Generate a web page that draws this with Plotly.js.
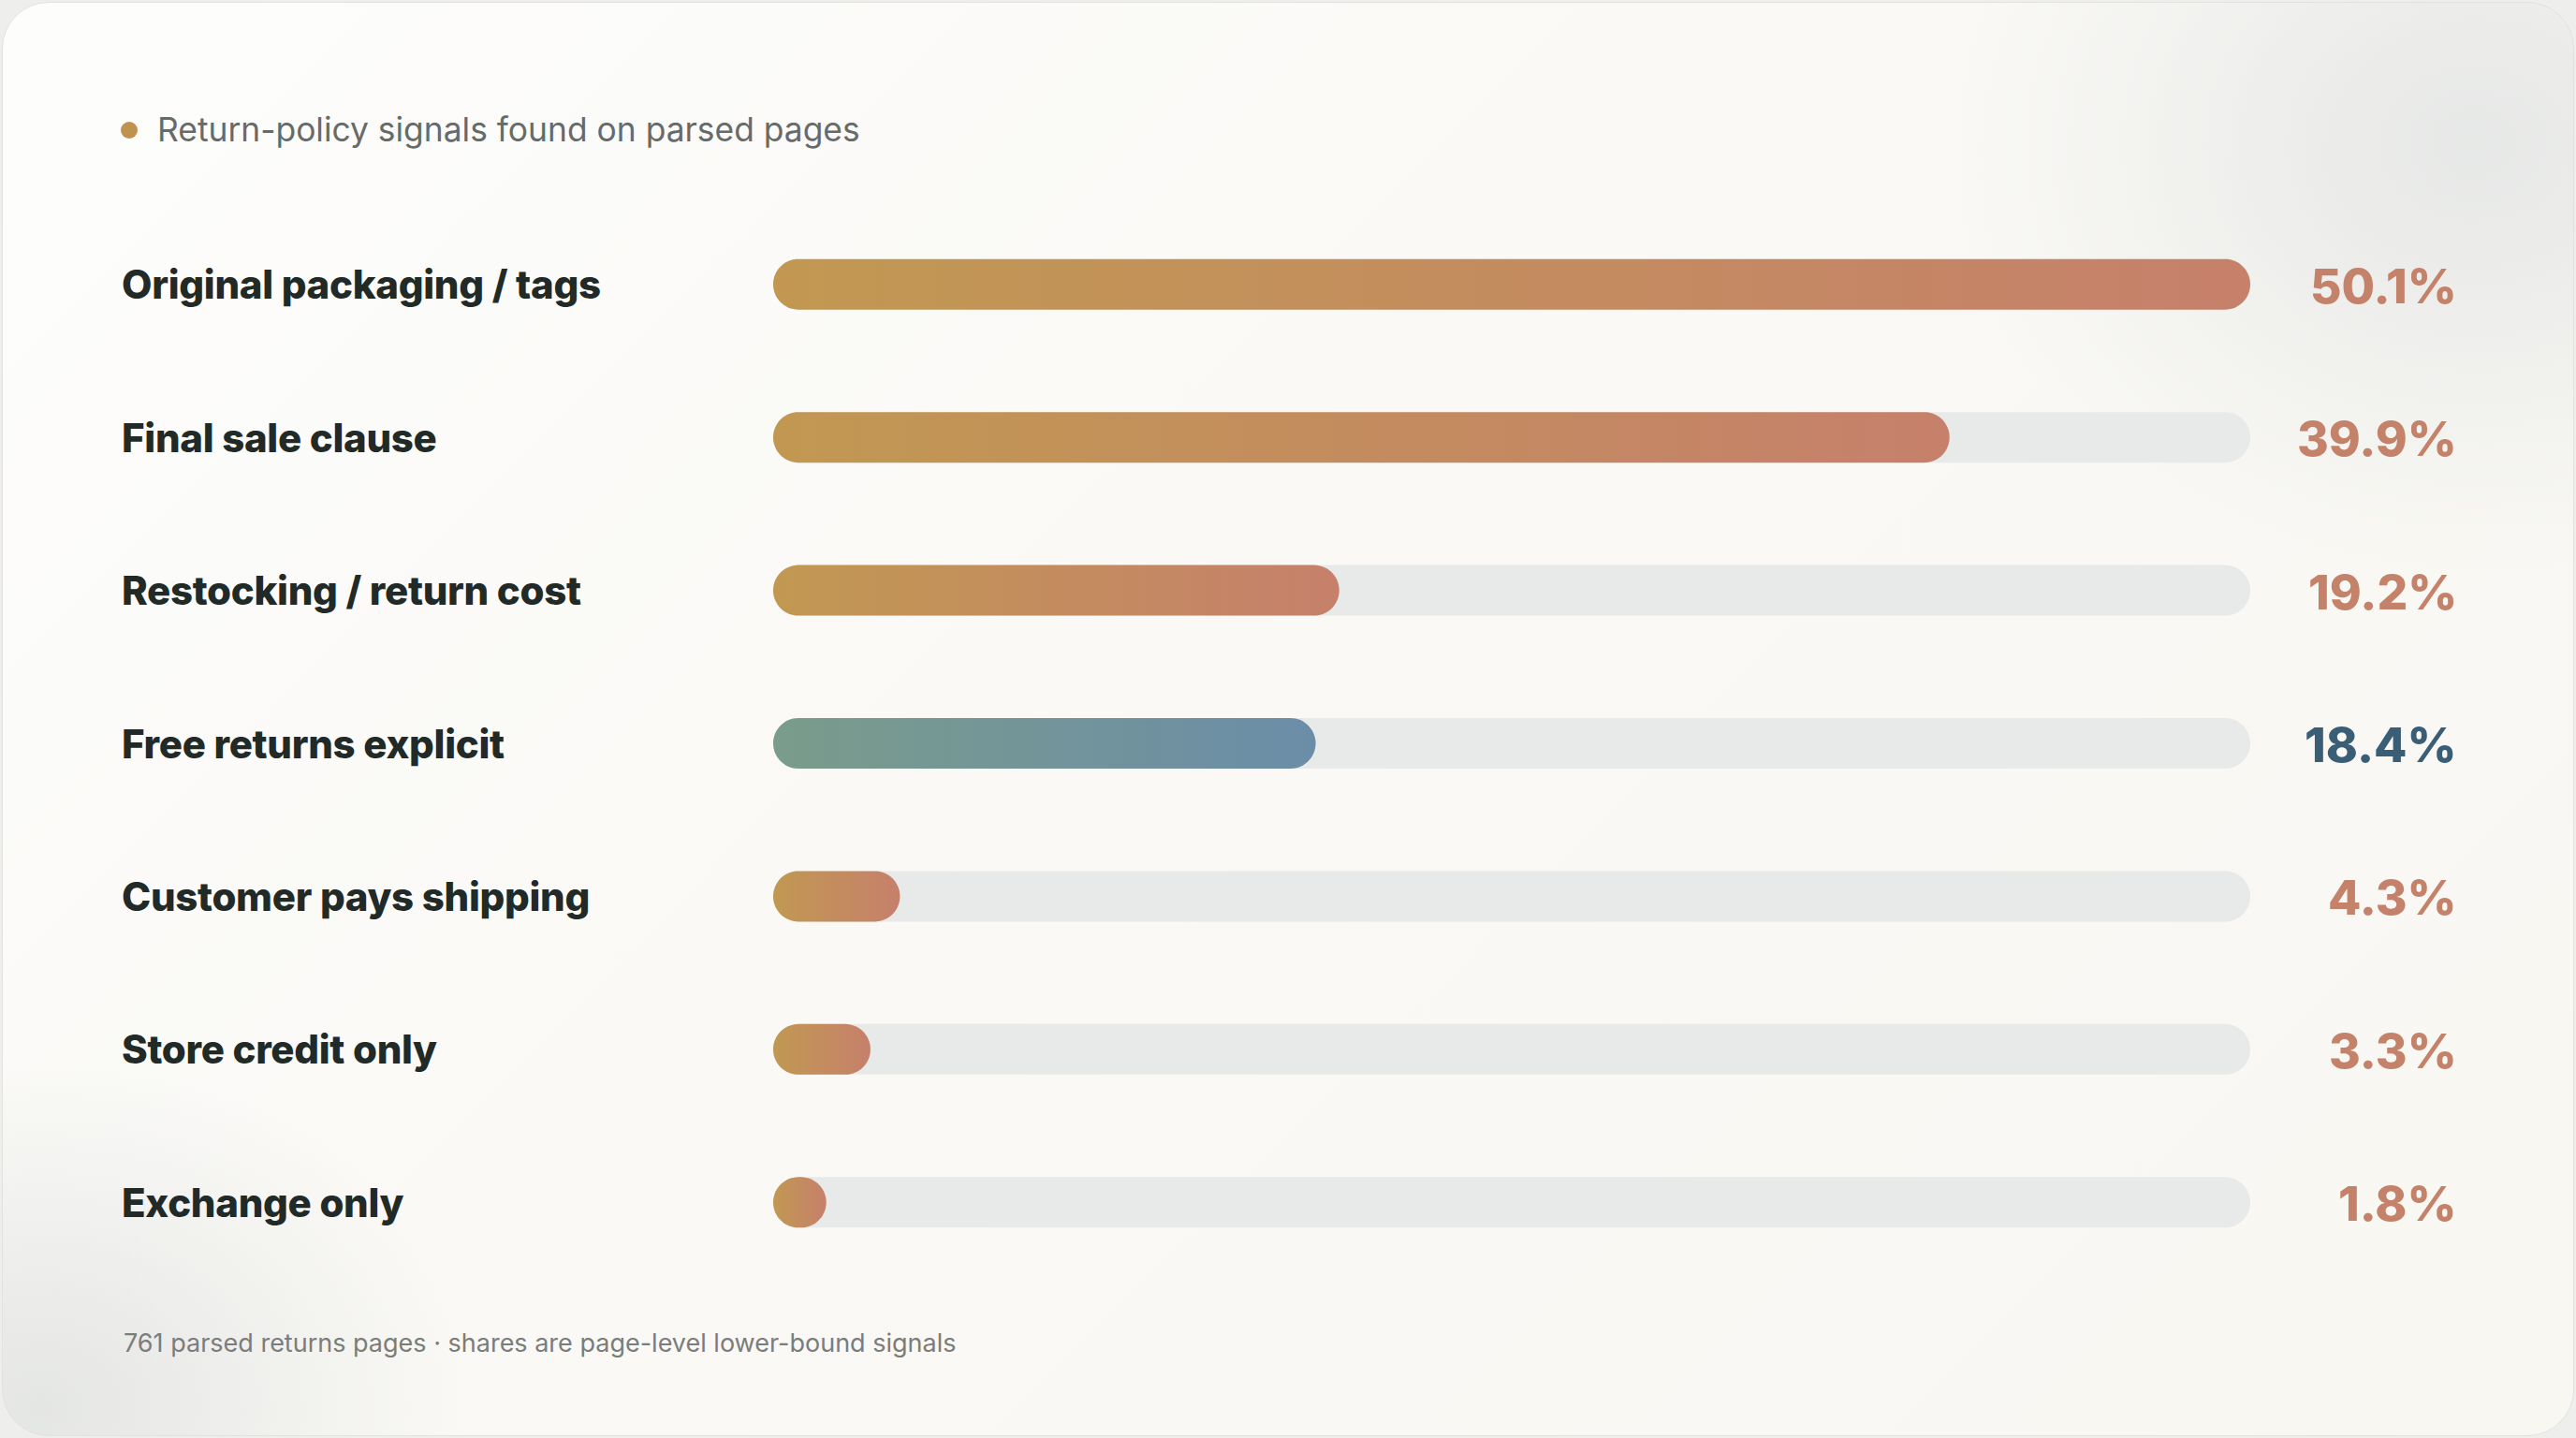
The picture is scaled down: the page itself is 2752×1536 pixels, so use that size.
<!DOCTYPE html>
<html>
<head>
<meta charset="utf-8">
<script src="https://cdn.plot.ly/plotly-3.0.1.min.js"></script>
<style>
  html, body { margin: 0; padding: 0; width: 2752px; height: 1536px; overflow: hidden; background: #EEEEEC; }
  #card {
    position: absolute; left: 2px; top: 2px; width: 2746px; height: 1530px;
    border-radius: 50px; border: 1px solid #E2E2DF;
    background:
      radial-gradient(ellipse 560px 460px at 2640px 150px, rgba(228,230,229,0.9), rgba(228,230,229,0) 100%),
      radial-gradient(ellipse 460px 380px at 40px 1500px, rgba(226,228,226,0.9), rgba(226,228,226,0) 100%),
      linear-gradient(135deg, #FDFDFC 0%, #FAF9F6 40%, #F8F7F2 100%);
  }
  #chart { position: absolute; left: 0; top: 0; width: 2752px; height: 1536px; }
</style>
</head>
<body>
<div id="card"></div>
<div id="chart"></div>
<script>
// ---- data ----
const categories = [
  "Original packaging / tags",
  "Final sale clause",
  "Restocking / return cost",
  "Free returns explicit",
  "Customer pays shipping",
  "Store credit only",
  "Exchange only"
];
const values = [50.1, 39.9, 19.2, 18.4, 4.3, 3.3, 1.8];
const tones = ["warm", "warm", "warm", "cool", "warm", "warm", "warm"];
const legendText = "Return-policy signals found on parsed pages";
const footerText = "761 parsed returns pages · shares are page-level lower-bound signals";

// ---- styling ----
const W = 2752, H = 1536;
const margin = {l: 826, r: 348, t: 222, b: 170};
const plotW = W - margin.l - margin.r;
const plotH = H - margin.t - margin.b;
const n = categories.length;
const xmax = Math.max(...values);
const rowPx = plotH / n;
const thick = 54, rad = thick / 2;
const palette = {
  warm: {scale: [[0, "#C19852"], [1, "#C6806B"]], text: "#C4826A"},
  cool: {scale: [[0, "#7A9C8B"], [1, "#6B8DA8"]], text: "#3B5E77"}
};

// pill outline in data units, converted from pixel radius via axis scales
function pill(i, v) {
  const kx = xmax / plotW, ky = 1 / rowPx;
  const Lpx = Math.max(v / kx, 2 * rad);
  const xs = [], ys = [];
  const N = 30;
  for (let k = 0; k <= N; k++) {
    const a = -Math.PI / 2 + Math.PI * k / N;
    xs.push((Lpx - rad + rad * Math.cos(a)) * kx);
    ys.push(i + rad * Math.sin(a) * ky);
  }
  for (let k = 0; k <= N; k++) {
    const a = Math.PI / 2 + Math.PI * k / N;
    xs.push((rad + rad * Math.cos(a)) * kx);
    ys.push(i + rad * Math.sin(a) * ky);
  }
  xs.push(xs[0]); ys.push(ys[0]);
  return {x: xs, y: ys, len: Lpx * kx};
}

const traces = [];
// tracks
categories.forEach((c, i) => {
  const p = pill(i, xmax);
  traces.push({
    type: "scatter", mode: "none", x: p.x, y: p.y, fill: "toself",
    fillcolor: "#E8E9E9", hoverinfo: "skip", showlegend: false
  });
});
// value bars
categories.forEach((c, i) => {
  const p = pill(i, values[i]);
  traces.push({
    type: "scatter", mode: "none", x: p.x, y: p.y, fill: "toself",
    fillgradient: {type: "horizontal", colorscale: palette[tones[i]].scale, start: 0, stop: p.len},
    name: c, hoverinfo: "skip", showlegend: false
  });
});

const annotations = [];
const labelX = (128 - margin.l) / plotW;
const valueX = (2627 - margin.l) / plotW;
categories.forEach((c, i) => {
  annotations.push({
    text: c, xref: "paper", x: labelX, xanchor: "left", yref: "y", y: i, yanchor: "middle",
    showarrow: false, font: {family: "Inter, sans-serif", size: 42, weight: 800, color: "#212A27"}
  });
  annotations.push({
    text: values[i].toFixed(1) + "%", xref: "paper", x: valueX, xanchor: "right", yref: "y", y: i, yanchor: "middle",
    yshift: -1,
    showarrow: false, font: {family: "Inter, sans-serif", size: 51.5, weight: 800, color: palette[tones[i]].text}
  });
});
annotations.push({
  text: footerText, xref: "paper", x: (130 - margin.l) / plotW, xanchor: "left",
  yref: "paper", y: (H - margin.b - 1434) / plotH, yanchor: "middle",
  showarrow: false, font: {family: "Inter, sans-serif", size: 27, color: "#7B7D7A"}
});

const layout = {
  width: W, height: H,
  margin: margin,
  paper_bgcolor: "rgba(0,0,0,0)", plot_bgcolor: "rgba(0,0,0,0)",
  showlegend: false,
  title: {
    text: legendText, x: 168 / W, xanchor: "left", xref: "container",
    y: 1 - 139 / H, yanchor: "middle", yref: "container",
    font: {family: "Inter, sans-serif", size: 35.4, color: "#666B69"}
  },
  xaxis: {range: [0, xmax], visible: false, fixedrange: true},
  yaxis: {range: [n - 0.5, -0.5], visible: false, fixedrange: true},
  shapes: [{
    type: "circle", xref: "paper", yref: "paper",
    xsizemode: "pixel", ysizemode: "pixel",
    xanchor: (138 - margin.l) / plotW, yanchor: (H - margin.b - 139) / plotH,
    x0: -9, x1: 9, y0: -9, y1: 9,
    fillcolor: "#C0924F", line: {width: 0}
  }],
  annotations: annotations
};

Plotly.newPlot("chart", traces, layout, {staticPlot: true, displayModeBar: false}).then(() => {
  // slightly tighter tracking on category labels, keeping their left edge in place
  document.querySelectorAll("g.annotation").forEach(g => {
    const idx = +g.getAttribute("data-index");
    const t = g.querySelector("text.annotation-text");
    if (!t || idx >= 2 * n || idx % 2 !== 0) return;
    const before = t.getBBox().x;
    t.style.letterSpacing = "-0.3px";
    const after = t.getBBox().x;
    const prev = t.getAttribute("transform") || "";
    t.setAttribute("transform", prev + " translate(" + (before - after) + ",0)");
  });
});
</script>
</body>
</html>
